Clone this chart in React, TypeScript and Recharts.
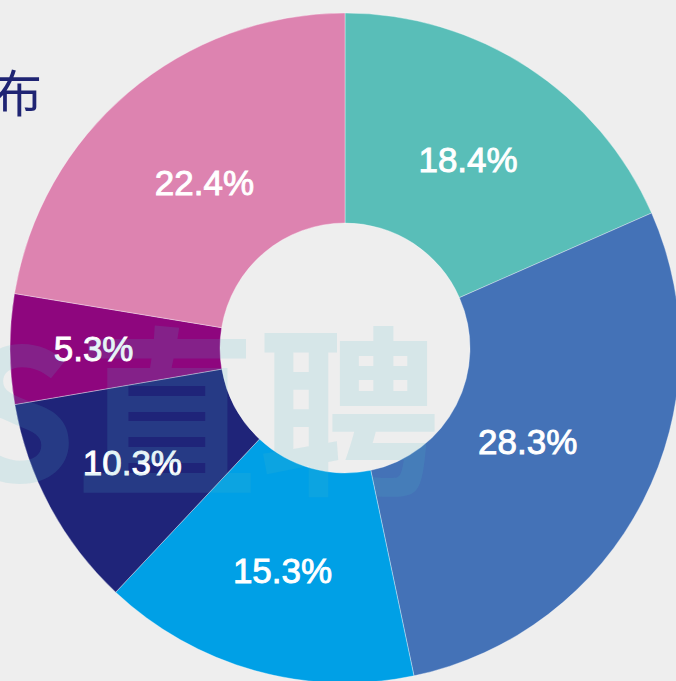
import React from 'react';
import { PieChart, Pie, Cell } from 'recharts';

// slices, clockwise from 12 o'clock
const sliceNames = ['s1', 's2', 's3', 's4', 's5', 's6'];
const sliceValues = [18.4, 28.3, 15.3, 10.3, 5.3, 22.4];
const sliceColors = ['#59beb8', '#4472b7', '#00a0e6', '#1f2479', '#8e067e', '#dd83b0'];

const titleText = '分布';
const watermarkText = 'BOSS直聘';

const data = sliceNames.map((name, i) => ({ name, value: sliceValues[i] }));

const RAD = Math.PI / 180;

const renderLabel = (props: any) => {
  const { cx, cy, midAngle, value } = props;
  // smaller slices carry their label further out
  const r = 262 - 2 * value;
  const x = cx + r * Math.cos(-midAngle * RAD);
  const y = cy + r * Math.sin(-midAngle * RAD);
  return (
    <text
      x={x}
      y={y}
      fill="#ffffff"
      stroke="#ffffff"
      strokeWidth={0.9}
      fontSize={35}
      fontFamily="'Liberation Sans', Arial, sans-serif"
      textAnchor="middle"
      dominantBaseline="central"
    >
      {`${value.toFixed(1)}%`}
    </text>
  );
};

const App: React.FC = () => {
  return (
    <div
      style={{
        position: 'fixed',
        left: 0,
        top: 0,
        width: 676,
        height: 681,
        background: '#eeeeee',
        overflow: 'hidden',
      }}
    >
      <PieChart width={676} height={681} margin={{ top: 0, right: 0, bottom: 0, left: 0 }}>
        <Pie
          data={data}
          dataKey="value"
          nameKey="name"
          cx={345}
          cy={348}
          innerRadius={125}
          outerRadius={335}
          startAngle={90}
          endAngle={-270}
          stroke="rgba(255,255,255,0.35)"
          strokeWidth={1}
          label={renderLabel}
          labelLine={false}
          isAnimationActive={false}
        >
          {data.map((d, i) => (
            <Cell key={d.name} fill={sliceColors[i]} />
          ))}
        </Pie>
      </PieChart>
      <svg
        width={676}
        height={681}
        style={{ position: 'absolute', left: 0, top: 0, pointerEvents: 'none' }}
      >
        <text
          x={42}
          y={112}
          textAnchor="end"
          fontSize={50}
          fill="#1f2473"
          fontFamily="'Noto Sans CJK SC', sans-serif"
        >
          {titleText}
        </text>
        <text
          x={440}
          y={481}
          textAnchor="end"
          fontSize={182}
          fontWeight={700}
          fill="#53bcc6"
          fillOpacity={0.15}
          fontFamily="'Noto Sans CJK SC', sans-serif"
        >
          {watermarkText}
        </text>
      </svg>
    </div>
  );
};

export default App;
